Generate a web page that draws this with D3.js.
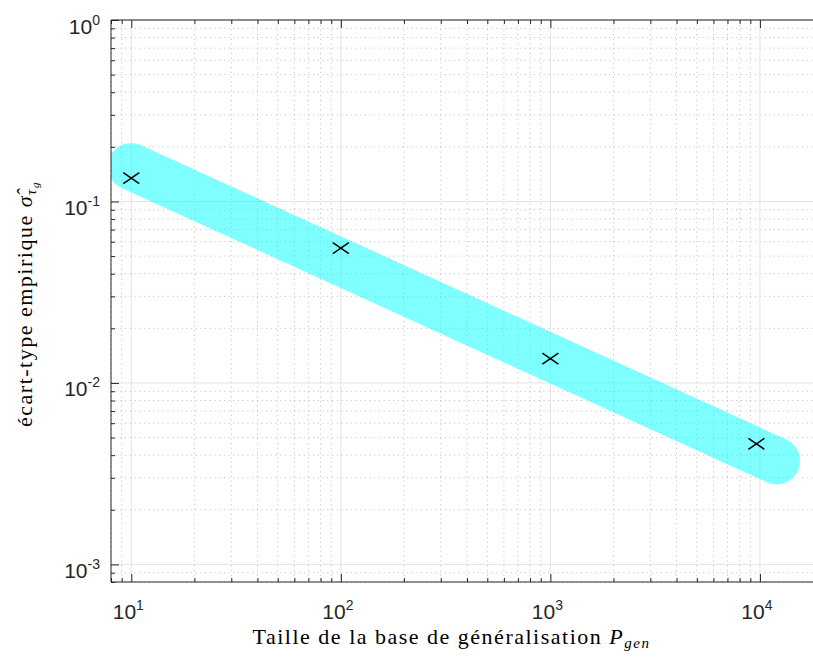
<!DOCTYPE html>
<html>
<head>
<meta charset="utf-8">
<script src="https://cdn.jsdelivr.net/npm/d3@7"></script>
<style>
  body { margin: 0; background: #fff; }
  svg { display: block; }
</style>
</head>
<body>
<svg id="chart" width="813" height="657"></svg>
<script>
// measured points (size of generalisation base vs empirical std)
var sizeP = [10, 100, 1000, 9620];
var sigmaHat = [0.1345, 0.0554, 0.0136, 0.00462];

// thick trend band (two end points)
var fitP = [10, 12000];
var fitSigma = [0.1556, 0.00372];

// tick values
var xMajorTicks = [10, 100, 1000, 10000];
var xTickExp = ['1', '2', '3', '4'];
var yMajorTicks = [1, 0.1, 0.01, 0.001];
var yTickExp = ['0', '-1', '-2', '-3'];

function drawChart(){
    var plotLeft = 111, plotRight = 823, plotTop = 20, plotBottom = 582;

    var svg = d3.select('#chart');

    var x = d3.scaleLog().domain([8, 20000]).range([plotLeft, plotRight]);
    var y = d3.scaleLog().domain([8e-4, 1]).range([plotBottom, plotTop]);

    // minor tick values, each decade 2..9
    function minorValues(scale){
        var d = scale.domain(), out = [];
        for (var e = Math.floor(Math.log10(d[0])); e <= Math.ceil(Math.log10(d[1])); e++){
            for (var k = 2; k <= 9; k++){
                var v = k * Math.pow(10, e);
                if (v >= d[0] && v <= d[1]) out.push(v);
            }
        }
        return out;
    }
    var xMinor = minorValues(x);
    var yMinor = minorValues(y);

    svg.append('defs').append('clipPath').attr('id', 'plotClip')
        .append('rect')
        .attr('x', plotLeft).attr('y', plotTop)
        .attr('width', plotRight - plotLeft).attr('height', plotBottom - plotTop);

    // grid
    var grid = svg.append('g');
    var minorStyle = function(sel){
        sel.style('stroke', '#c4c4c4').style('stroke-width', 1).style('stroke-dasharray', '1.2,3.5');
    };
    var majorStyle = function(sel){
        sel.style('stroke', '#e3e3e3').style('stroke-width', 1);
    };
    grid.append('g').selectAll('line').data(xMinor).enter().append('line')
        .attr('x1', function(d){ return x(d); }).attr('x2', function(d){ return x(d); })
        .attr('y1', plotTop).attr('y2', plotBottom)
        .call(minorStyle);
    grid.append('g').selectAll('line').data(yMinor).enter().append('line')
        .attr('y1', function(d){ return y(d); }).attr('y2', function(d){ return y(d); })
        .attr('x1', plotLeft).attr('x2', plotRight)
        .call(minorStyle);
    grid.append('g').selectAll('line').data(xMajorTicks).enter().append('line')
        .attr('x1', function(d){ return x(d); }).attr('x2', function(d){ return x(d); })
        .attr('y1', plotTop).attr('y2', plotBottom)
        .call(majorStyle);
    grid.append('g').selectAll('line').data(yMajorTicks).enter().append('line')
        .attr('y1', function(d){ return y(d); }).attr('y2', function(d){ return y(d); })
        .attr('x1', plotLeft).attr('x2', plotRight)
        .call(majorStyle);

    // cyan band
    var band = d3.line()
        .x(function(d){ return x(d[0]); })
        .y(function(d){ return y(d[1]); });
    svg.append('path')
        .datum(d3.zip(fitP, fitSigma))
        .attr('clip-path', 'url(#plotClip)')
        .attr('d', band)
        .style('fill', 'none')
        .style('stroke', 'rgb(0,255,255)')
        .style('stroke-opacity', 0.5)
        .style('stroke-width', 47)
        .style('stroke-linecap', 'round');

    // x markers
    var hw = 8, hh = 5.5;
    svg.append('g').selectAll('path')
        .data(d3.zip(sizeP, sigmaHat))
        .enter().append('path')
        .attr('d', function(d){
            var cx = x(d[0]), cy = y(d[1]);
            return 'M' + (cx - hw) + ',' + (cy - hh) + 'L' + (cx + hw) + ',' + (cy + hh) +
                   'M' + (cx - hw) + ',' + (cy + hh) + 'L' + (cx + hw) + ',' + (cy - hh);
        })
        .style('stroke', '#000')
        .style('stroke-width', 1.5)
        .style('fill', 'none');

    // axes (ticks pointing inward)
    var axisColor = '#262626';
    function styleAxis(g){
        g.select('.domain').remove();
        g.selectAll('.tick line').style('stroke', axisColor);
        g.selectAll('.tick text').remove();
    }

    svg.append('g').attr('transform', 'translate(0,' + plotBottom + ')')
        .call(d3.axisBottom(x).tickValues(xMinor).tickSize(-4)).call(styleAxis);
    svg.append('g').attr('transform', 'translate(0,' + plotBottom + ')')
        .call(d3.axisBottom(x).tickValues(xMajorTicks).tickSize(-8)).call(styleAxis);
    svg.append('g').attr('transform', 'translate(0,' + plotTop + ')')
        .call(d3.axisTop(x).tickValues(xMinor).tickSize(-4)).call(styleAxis);
    svg.append('g').attr('transform', 'translate(0,' + plotTop + ')')
        .call(d3.axisTop(x).tickValues(xMajorTicks).tickSize(-8)).call(styleAxis);
    svg.append('g').attr('transform', 'translate(' + plotLeft + ',0)')
        .call(d3.axisLeft(y).tickValues(yMinor).tickSize(-4)).call(styleAxis);
    svg.append('g').attr('transform', 'translate(' + plotLeft + ',0)')
        .call(d3.axisLeft(y).tickValues(yMajorTicks).tickSize(-8)).call(styleAxis);

    // axis lines
    svg.append('path')
        .attr('d', 'M' + plotRight + ',' + plotTop + 'H' + plotLeft + 'V' + plotBottom + 'H' + plotRight)
        .style('fill', 'none').style('stroke', axisColor).style('stroke-width', 1);

    // tick labels
    var tickFont = '"Liberation Sans", Arial, Helvetica, sans-serif';
    var xLab = svg.append('g').selectAll('text')
        .data(d3.zip(xMajorTicks, xTickExp))
        .enter().append('text')
        .attr('x', function(d){ return x(d[0]) - 3; })
        .attr('y', plotBottom + 37)
        .attr('text-anchor', 'middle')
        .style('font-family', tickFont).style('font-size', '21px').style('fill', axisColor);
    xLab.append('tspan').text('10');
    xLab.append('tspan').attr('dy', -9).style('font-size', '14px').text(function(d){ return d[1]; });

    var yLab = svg.append('g').selectAll('text')
        .data(d3.zip(yMajorTicks, yTickExp))
        .enter().append('text')
        .attr('x', plotLeft - 11)
        .attr('y', function(d){ return y(d[0]) + 13.5; })
        .attr('text-anchor', 'end')
        .style('font-family', tickFont).style('font-size', '21px').style('fill', axisColor);
    yLab.append('tspan').text('10');
    yLab.append('tspan').attr('dy', -9).style('font-size', '14px').text(function(d){ return d[1]; });

    // axis titles
    var serif = '"Liberation Serif", "Times New Roman", serif';
    var xTitle = svg.append('text')
        .attr('x', 451.5).attr('y', 644)
        .attr('text-anchor', 'middle')
        .style('font-family', serif).style('font-size', '22px').style('letter-spacing', '1.5px')
        .style('fill', '#000');
    xTitle.append('tspan').text('Taille de la base de généralisation ');
    xTitle.append('tspan').style('font-style', 'italic').text('P');
    xTitle.append('tspan').attr('dy', 4).style('font-style', 'italic').style('font-size', '15px').text('gen');

    var yTitle = svg.append('text')
        .attr('transform', 'translate(32,304) rotate(-90)')
        .attr('text-anchor', 'middle')
        .style('font-family', serif).style('font-size', '22px').style('letter-spacing', '1.5px')
        .style('fill', '#000');
    yTitle.append('tspan').text('écart-type empirique ');
    yTitle.append('tspan').style('font-style', 'italic').text('σ\u0302');
    yTitle.append('tspan').attr('dy', 4).style('font-style', 'italic').style('font-size', '15px').text('τ');
    yTitle.append('tspan').attr('dy', 3).style('font-style', 'italic').style('font-size', '11px').text('g');
}

drawChart();
</script>
</body>
</html>
